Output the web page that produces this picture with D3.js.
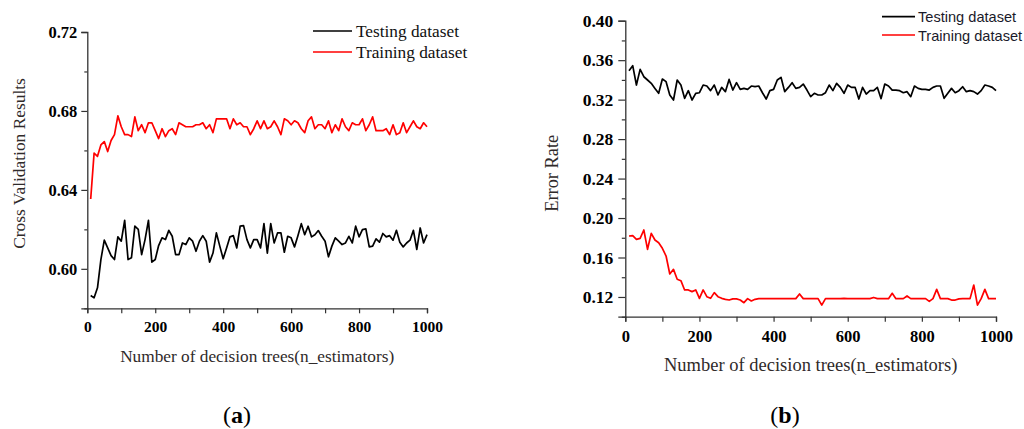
<!DOCTYPE html>
<html>
<head>
<meta charset="utf-8">
<script src="https://cdnjs.cloudflare.com/ajax/libs/d3/7.8.5/d3.min.js"></script>
<style>
  html, body { margin: 0; padding: 0; background: #fff; }
  svg { display: block; }
</style>
</head>
<body>
<svg id="chart" width="1024" height="429"></svg>
<script>
// ---------- DATA ----------
const nEstimators = [10,20,30,40,50,60,70,80,90,100,110,120,130,140,150,160,170,180,190,200,
  210,220,230,240,250,260,270,280,290,300,310,320,330,340,350,360,370,380,390,400,
  410,420,430,440,450,460,470,480,490,500,510,520,530,540,550,560,570,580,590,600,
  610,620,630,640,650,660,670,680,690,700,710,720,730,740,750,760,770,780,790,800,
  810,820,830,840,850,860,870,880,890,900,910,920,930,940,950,960,970,980,990,1000];

// (a) Cross validation results
const cvTesting = [0.5865,0.5853,0.5904,0.6047,0.6145,0.6106,0.6067,0.6047,0.6162,0.6140,
  0.6246,0.6047,0.6056,0.6216,0.6200,0.6072,0.6148,0.6246,0.6034,0.6047,
  0.6118,0.6157,0.6148,0.6195,0.6165,0.6072,0.6072,0.6131,0.6123,0.6157,
  0.6140,0.6089,0.6140,0.6168,0.6140,0.6034,0.6080,0.6182,0.6115,0.6051,
  0.6106,0.6162,0.6168,0.6106,0.6216,0.6219,0.6148,0.6106,0.6148,0.6148,
  0.6106,0.6229,0.6080,0.6229,0.6131,0.6182,0.6182,0.6084,0.6165,0.6157,
  0.6111,0.6168,0.6229,0.6173,0.6216,0.6162,0.6173,0.6194,0.6165,0.6140,
  0.6061,0.6115,0.6157,0.6140,0.6123,0.6131,0.6165,0.6131,0.6216,0.6162,
  0.6199,0.6202,0.6111,0.6115,0.6152,0.6135,0.6179,0.6162,0.6168,0.6145,
  0.6195,0.6135,0.6111,0.6131,0.6145,0.6195,0.6098,0.6207,0.6131,0.6173];
const cvTraining = [0.6354,0.6586,0.6570,0.6628,0.6645,0.6594,0.6650,0.6680,0.6775,0.6720,
  0.6680,0.6680,0.6670,0.6770,0.6700,0.6730,0.6690,0.6740,0.6740,0.6700,
  0.6660,0.6710,0.6670,0.6700,0.6710,0.6680,0.6740,0.6730,0.6720,0.6720,
  0.6720,0.6730,0.6730,0.6740,0.6710,0.6730,0.6690,0.6760,0.6760,0.6760,
  0.6760,0.6710,0.6760,0.6730,0.6740,0.6720,0.6720,0.6680,0.6710,0.6750,
  0.6710,0.6750,0.6710,0.6720,0.6750,0.6720,0.6680,0.6760,0.6750,0.6730,
  0.6750,0.6740,0.6710,0.6690,0.6750,0.6770,0.6710,0.6730,0.6730,0.6710,
  0.6750,0.6690,0.6730,0.6700,0.6760,0.6720,0.6700,0.6740,0.6730,0.6730,
  0.6760,0.6700,0.6730,0.6770,0.6700,0.6700,0.6700,0.6710,0.6680,0.6730,
  0.6680,0.6690,0.6740,0.6690,0.6720,0.6750,0.6720,0.6710,0.6740,0.6720];

// (b) Error rate
const errTesting = [0.3493,0.3544,0.3348,0.3507,0.3432,0.3399,0.3365,0.3314,0.3264,0.3409,
  0.3382,0.3247,0.3196,0.3399,0.3348,0.3213,0.3291,0.3196,0.3264,0.3270,
  0.3348,0.3338,0.3291,0.3348,0.3247,0.3324,0.3281,0.3405,0.3297,0.3372,
  0.3304,0.3314,0.3304,0.3338,0.3331,0.3338,0.3270,0.3206,0.3291,0.3304,
  0.3399,0.3426,0.3281,0.3324,0.3372,0.3314,0.3324,0.3358,0.3297,0.3230,
  0.3264,0.3247,0.3247,0.3270,0.3348,0.3291,0.3365,0.3324,0.3264,0.3348,
  0.3324,0.3324,0.3206,0.3324,0.3257,0.3291,0.3291,0.3324,0.3210,0.3358,
  0.3338,0.3297,0.3297,0.3291,0.3270,0.3281,0.3230,0.3338,0.3314,0.3304,
  0.3304,0.3297,0.3324,0.3338,0.3338,0.3213,0.3264,0.3314,0.3270,0.3291,
  0.3331,0.3281,0.3291,0.3281,0.3257,0.3291,0.3348,0.3338,0.3324,0.3291];
const errTraining = [0.1818,0.1821,0.1784,0.1794,0.1879,0.1683,0.1845,0.1777,0.1750,0.1693,
  0.1615,0.1433,0.1480,0.1379,0.1365,0.1271,0.1271,0.1254,0.1271,0.1186,
  0.1271,0.1203,0.1186,0.1244,0.1203,0.1186,0.1176,0.1169,0.1180,0.1180,
  0.1169,0.1142,0.1183,0.1159,0.1176,0.1183,0.1183,0.1183,0.1183,0.1183,
  0.1183,0.1183,0.1183,0.1183,0.1183,0.1183,0.1230,0.1183,0.1183,0.1183,
  0.1183,0.1183,0.1118,0.1183,0.1183,0.1183,0.1183,0.1183,0.1186,0.1183,
  0.1183,0.1183,0.1183,0.1183,0.1183,0.1183,0.1195,0.1183,0.1183,0.1183,
  0.1183,0.1237,0.1183,0.1183,0.1183,0.1210,0.1183,0.1183,0.1183,0.1183,
  0.1183,0.1155,0.1183,0.1277,0.1183,0.1183,0.1183,0.1169,0.1169,0.1180,
  0.1183,0.1183,0.1183,0.1321,0.1118,0.1183,0.1277,0.1183,0.1183,0.1183];

const seriesNames = ["Testing dataset", "Training dataset"];
const seriesColors = ["#000000", "#ff0000"];
const xMajorTicks = [0, 200, 400, 600, 800, 1000];
const xMinorTicks = [100, 300, 500, 700, 900];
const cvMajorTicks = [0.60, 0.64, 0.68, 0.72];
const cvMinorTicks = [0.58, 0.62, 0.66, 0.70];
const errMajorTicks = [0.12, 0.16, 0.20, 0.24, 0.28, 0.32, 0.36, 0.40];
const errMinorTicks = [0.10, 0.14, 0.18, 0.22, 0.26, 0.30, 0.34, 0.38];
const xTitle = "Number of decision trees(n_estimators)";

// ---------- DRAW ----------
const svg = d3.select("#chart");
const SERIF = "'Liberation Serif', 'Times New Roman', serif";
const SANS = "'Liberation Sans', Arial, sans-serif";

function panel(cfg) {
  const x = d3.scaleLinear().domain([0, 1000]).range([cfg.x0, cfg.x1]);
  const y = d3.scaleLinear().domain(cfg.yDomain).range([cfg.y0, cfg.y1]);
  const g = svg.append("g");

  // y axis major
  const yAx = g.append("g").attr("transform", `translate(${cfg.x0},0)`)
    .call(d3.axisLeft(y).tickValues(cfg.yMajor).tickSize(cfg.yMajorLen).tickPadding(cfg.yPad)
      .tickFormat(d3.format(".2f")));
  yAx.selectAll("text").attr("font-family", SERIF).attr("font-weight", "bold")
    .attr("font-size", cfg.tickFont).attr("fill", "#000");
  // y axis minor
  g.append("g").attr("transform", `translate(${cfg.x0},0)`)
    .call(d3.axisLeft(y).tickValues(cfg.yMinor).tickSize(cfg.yMinorLen).tickFormat(""))
    .select(".domain").remove();

  // x axis major
  const xAx = g.append("g").attr("transform", `translate(0,${cfg.y0})`)
    .call(d3.axisBottom(x).tickValues(xMajorTicks).tickSize(cfg.xTickLen).tickPadding(cfg.xPad)
      .tickFormat(d3.format("d")));
  xAx.selectAll("text").attr("font-family", SERIF).attr("font-weight", "bold")
    .attr("font-size", cfg.xTickFont).attr("fill", "#000");
  g.append("g").attr("transform", `translate(0,${cfg.y0})`)
    .call(d3.axisBottom(x).tickValues(xMinorTicks).tickSize(cfg.xTickLen).tickFormat(""))
    .select(".domain").remove();

  g.selectAll(".domain").attr("stroke", "#333").attr("stroke-width", 1.3);
  g.selectAll(".tick line").attr("stroke", "#333").attr("stroke-width", 1.2);

  // lines
  const line = d3.line().x((d, i) => x(nEstimators[i])).y(d => y(d));
  cfg.series.forEach((s, k) => {
    g.append("path").datum(s).attr("fill", "none")
      .attr("stroke", seriesColors[k]).attr("stroke-width", 1.7)
      .attr("stroke-linejoin", "round").attr("d", line);
  });

  // titles
  g.append("text").attr("x", (cfg.x0 + cfg.x1) / 2).attr("y", cfg.xTitleY)
    .attr("text-anchor", "middle").attr("font-family", SERIF).attr("font-size", cfg.titleFont)
    .attr("fill", "#2f2a2a").text(xTitle);
  g.append("text").attr("transform", `translate(${cfg.yTitleX},${cfg.yTitleCY}) rotate(-90)`)
    .attr("text-anchor", "middle").attr("font-family", SERIF).attr("font-size", cfg.yTitleFont)
    .attr("fill", "#2f2a2a").text(cfg.yTitle);

  // legend
  seriesNames.forEach((name, k) => {
    const ly = cfg.legY[k];
    g.append("line").attr("x1", cfg.legX0).attr("x2", cfg.legX1)
      .attr("y1", ly).attr("y2", ly).attr("stroke", seriesColors[k]).attr("stroke-width", 1.7);
    g.append("text").attr("x", cfg.legTextX).attr("y", ly + cfg.legDy)
      .attr("font-family", cfg.legFamily).attr("font-size", cfg.legFont)
      .attr("fill", cfg.legColor).text(name);
  });

  // panel label
  const lab = g.append("text").attr("x", cfg.labelX).attr("y", 422.5)
    .attr("text-anchor", "middle").attr("font-family", SERIF).attr("font-size", 24).attr("fill", "#000");
  lab.append("tspan").text("(");
  lab.append("tspan").attr("font-weight", "bold").text(cfg.label);
  lab.append("tspan").text(")");
}

panel({
  x0: 87.3, x1: 427, y0: 308.3, y1: 32, yDomain: [0.58, 0.72],
  yMajor: cvMajorTicks, yMinor: cvMinorTicks, yMajorLen: 6, yMinorLen: 3, yPad: 4,
  xTickLen: 5, xPad: 8, tickFont: 16.5, xTickFont: 15.5,
  series: [cvTesting, cvTraining],
  xTitleY: 361.5, titleFont: 17.3,
  yTitle: "Cross Validation Results", yTitleX: 25, yTitleCY: 163.5, yTitleFont: 17.4,
  legX0: 313, legX1: 352, legY: [31, 52], legTextX: 356, legDy: 5.5,
  legFamily: SERIF, legFont: 17.3, legColor: "#111",
  label: "a", labelX: 237
});

panel({
  x0: 625.3, x1: 996, y0: 316.7, y1: 20.7, yDomain: [0.10, 0.40],
  yMajor: errMajorTicks, yMinor: errMinorTicks, yMajorLen: 7, yMinorLen: 3.5, yPad: 5,
  xTickLen: 5, xPad: 9, tickFont: 17.5, xTickFont: 16.5,
  series: [errTesting, errTraining],
  xTitleY: 370.5, titleFont: 18.5,
  yTitle: "Error Rate", yTitleX: 558, yTitleCY: 173.3, yTitleFont: 18.4,
  legX0: 882, legX1: 915, legY: [16.7, 35], legTextX: 918, legDy: 5.5,
  legFamily: SANS, legFont: 14.6, legColor: "#1a1a2a",
  label: "b", labelX: 785
});
</script>
</body>
</html>
